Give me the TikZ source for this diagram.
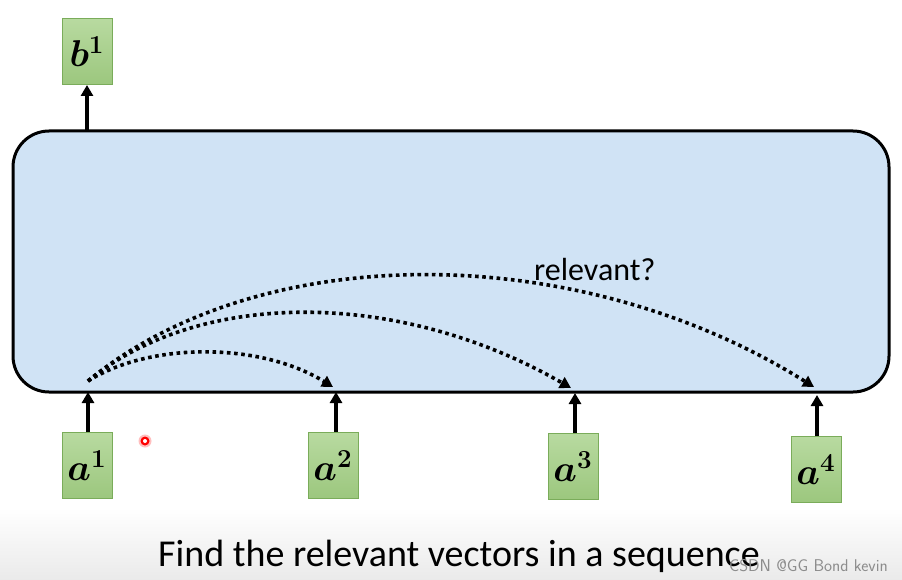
\documentclass[tikz,border=0pt]{standalone}
\usepackage{graphicx}
\usepackage{fontspec}
\usepackage{bm}
\newfontfamily\carlito{Carlito}
\usetikzlibrary{arrows.meta,shadings}
\definecolor{boxblue}{RGB}{208,227,245}
\definecolor{gtop}{RGB}{184,218,160}
\definecolor{gbot}{RGB}{156,199,126}
\definecolor{gborder}{RGB}{122,172,90}
\newcommand{\veclabel}[2]{\scalebox{1.8}{\fontsize{20}{24}\selectfont$\bm{#1}^{\bm{#2}}$}}
\tikzset{
  vecbox/.style={draw=gborder, line width=1pt, top color=gtop, bottom color=gbot,
    minimum width=50pt, minimum height=66pt, inner sep=0pt},
  uparrow/.style={line width=3.2pt, -{Triangle[length=11pt,width=12pt]}},
  relarrow/.style={line width=3.6pt, dash pattern=on 3.6pt off 3.6pt, -{Triangle[length=11pt,width=12pt]}},
}
\begin{document}
\begin{tikzpicture}[x=1pt,y=-1pt]
\useasboundingbox (0,0) rectangle (902,580);
\fill[white] (0,0) rectangle (902,580);
\shade[top color=white, bottom color={rgb,255:red,234;green,234;blue,234}] (0,508) rectangle (902,580);
% big box
\node[draw=black, line width=3pt, fill=boxblue, rounded corners=36pt,
  minimum width=876pt, minimum height=261pt, inner sep=0pt] (layer) at (451,261.5) {};
% vector boxes
\node[vecbox] (b1) at (87,51.5) {\veclabel{b}{1}};
\node[vecbox] (a1) at (87,465.5) {\veclabel{a}{1}};
\node[vecbox] (a2) at (333,465.5) {\veclabel{a}{2}};
\node[vecbox] (a3) at (573,466.5) {\veclabel{a}{3}};
\node[vecbox] (a4) at (816,469.5) {\veclabel{a}{4}};
% coordinates on the layer
\coordinate (s) at (88,381);
\coordinate (e2) at (333,387);
\coordinate (e3) at (571,388);
\coordinate (e4) at (814,387);
\coordinate (t1) at (87,130);
\coordinate (i1) at (88,392);
\coordinate (i2) at (336,392);
\coordinate (i3) at (575,393);
\coordinate (i4) at (817,395);
% arrows
\draw[uparrow] (t1) -- (b1.south);
\draw[uparrow] (a1.north -| i1) -- (i1);
\draw[uparrow] (a2.north -| i2) -- (i2);
\draw[uparrow] (a3.north -| i3) -- (i3);
\draw[uparrow] (a4.north -| i4) -- (i4);
% relevance arcs
\draw[relarrow] (s) .. controls (150,342) and (260,342) .. (e2);
\draw[relarrow] (s) .. controls (200,289) and (399,289) .. (e3);
\draw[relarrow] (s) .. controls (260,239) and (578,239) .. (e4);
\node[font=\carlito\fontsize{32}{36}\selectfont, anchor=west, inner sep=0pt] (rel) at (534,270) {relevant?};
% caption
\node[font=\carlito\fontsize{38}{42}\selectfont, inner sep=0pt] (cap) at (459,556) {Find the relevant vectors in a sequence};
\node[font=\sffamily\fontsize{17}{20}\selectfont, text=black!45, anchor=east, inner sep=0pt] (wm) at (888,566) {CSDN @GG Bond kevin};
% laser pointer dot
\fill[red!25] (145,441) circle (6.5pt);
\fill[red] (145,441) circle (4.5pt);
\fill[white] (145,441) circle (2pt);
\end{tikzpicture}
\end{document}
